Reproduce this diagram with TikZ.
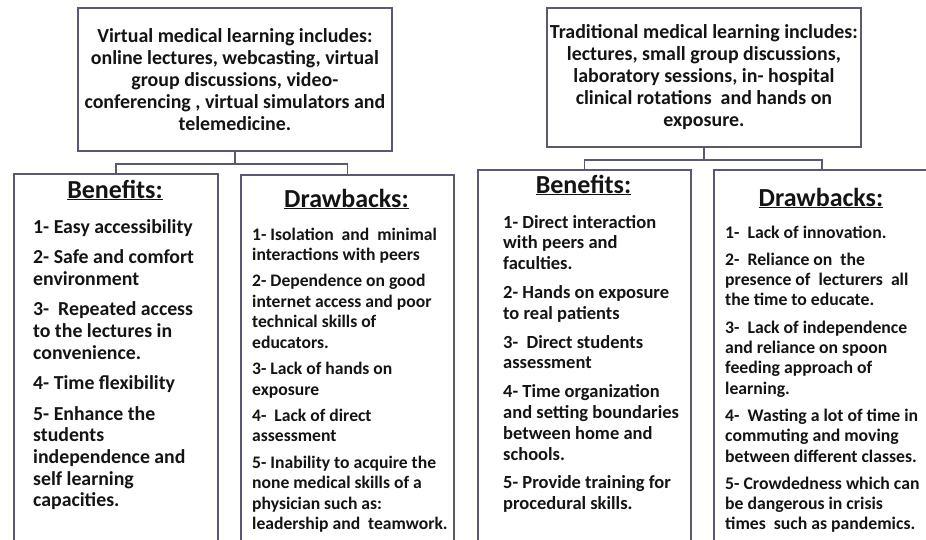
\documentclass[tikz,border=0pt]{standalone}
\usepackage{fontspec}
\setmainfont{Carlito}
\usetikzlibrary{calc}
\definecolor{edge}{HTML}{5B5870}
\definecolor{ink}{HTML}{141414}
\newcommand{\blist}[4]{\parbox[t]{#1}{\fontsize{#2}{#3}\selectfont\bfseries\raggedright #4}}
\tikzset{
  panel/.style={draw=edge, line width=1.8pt, fill=white, inner sep=0pt, anchor=north west},
  topbox/.style={panel, align=center, font=\fontsize{19.9}{22}\selectfont\bfseries, text=ink},
  head/.style={anchor=base, inner sep=0pt, text=ink, font=\fontsize{26}{30}\selectfont\bfseries},
  body/.style={anchor=base west, inner sep=0pt, text=ink},
  conn/.style={draw=edge, line width=1.8pt}
}
\begin{document}
\begin{tikzpicture}[x=1pt,y=-1pt]
\useasboundingbox[fill=white] (0,0) rectangle (926,539);
% top boxes
\node[topbox, minimum width=314pt, minimum height=143pt] (tl) at (77,7)
  {Virtual medical learning includes:\\ online lectures, webcasting, virtual\\ group discussions, video-\\ conferencing , virtual simulators and\\ telemedicine.};
\node[topbox, minimum width=314pt, minimum height=139pt] (tr) at (546,7)
  {Traditional medical learning includes:\\ lectures, small group discussions,\\ laboratory sessions, in- hospital\\ clinical rotations \ and hands on\\ exposure.};
% lower boxes
\node[panel, minimum width=204pt, minimum height=400pt] (lb) at (13,173) {};
\node[panel, minimum width=213pt, minimum height=400pt] (ld) at (240,174) {};
\node[panel, minimum width=213pt, minimum height=400pt] (rb) at (477,169) {};
\node[panel, minimum width=216pt, minimum height=400pt] (rd) at (713,169) {};
% headings
\node[head] (lbh) at (115,198) {\underline{Benefits:}};
\node[head] (ldh) at (346.5,207) {\underline{Drawbacks:}};
\node[head] (rbh) at (583.5,193) {\underline{Benefits:}};
\node[head] (rdh) at (821,206) {\underline{Drawbacks:}};
% lists
\node[body] (lbt) at (33,233) {\blist{200pt}{19.8}{21.6}{%
1- Easy accessibility\\[9pt]
2- Safe and comfort\\ environment\\[9pt]
3-\ \ Repeated access\\ to the lectures in\\ convenience.\\[9pt]
4- Time flexibility\\[9pt]
5- Enhance the\\ students\\ independence and\\ self learning\\ capacities.}};
\node[body] (ldt) at (252,240) {\blist{220pt}{17.6}{20.6}{%
1- Isolation \ and \ minimal\\ interactions with peers\\[5.5pt]
2- Dependence on good\\ internet access and poor\\ technical skills of\\ educators.\\[5.5pt]
3- Lack of hands on\\ exposure\\[5.5pt]
4-\ \ Lack of direct\\ assessment\\[5.5pt]
5- Inability to acquire the\\ none medical skills of a\\ physician such as:\\ leadership and \ teamwork.}};
\node[body] (rbt) at (503,228) {\blist{220pt}{18.5}{20.8}{%
1- Direct interaction\\ with peers and\\ faculties.\\[8pt]
2- Hands on exposure\\ to real patients\\[8pt]
3-\ \ Direct students\\ assessment\\[8pt]
4- Time organization\\ and setting boundaries\\ between home and\\ schools.\\[8pt]
5- Provide training for\\ procedural skills.}};
\node[body] (rdt) at (725,238) {\blist{220pt}{17.7}{20.3}{%
1-\ \ Lack of innovation.\\[7pt]
2-\ \ Reliance on \ the\\ presence of \ lecturers \ all\\ the time to educate.\\[7pt]
3-\ \ Lack of independence\\ and reliance on spoon\\ feeding approach of\\ learning.\\[7pt]
4-\ \ Wasting a lot of time in\\ commuting and moving\\ between different classes.\\[7pt]
5- Crowdedness which can\\ be dangerous in crisis\\ times \ such as pandemics.}};
% connectors
\draw[conn] (tl.south) -- ++(0,12) coordinate (lj);
\draw[conn] (lb.north) |- (lj) -| (ld.north);
\draw[conn] (tr.south) -- ++(0,12) coordinate (rj);
\draw[conn] (rb.north) |- (rj) -| (rd.north);
\end{tikzpicture}
\end{document}
